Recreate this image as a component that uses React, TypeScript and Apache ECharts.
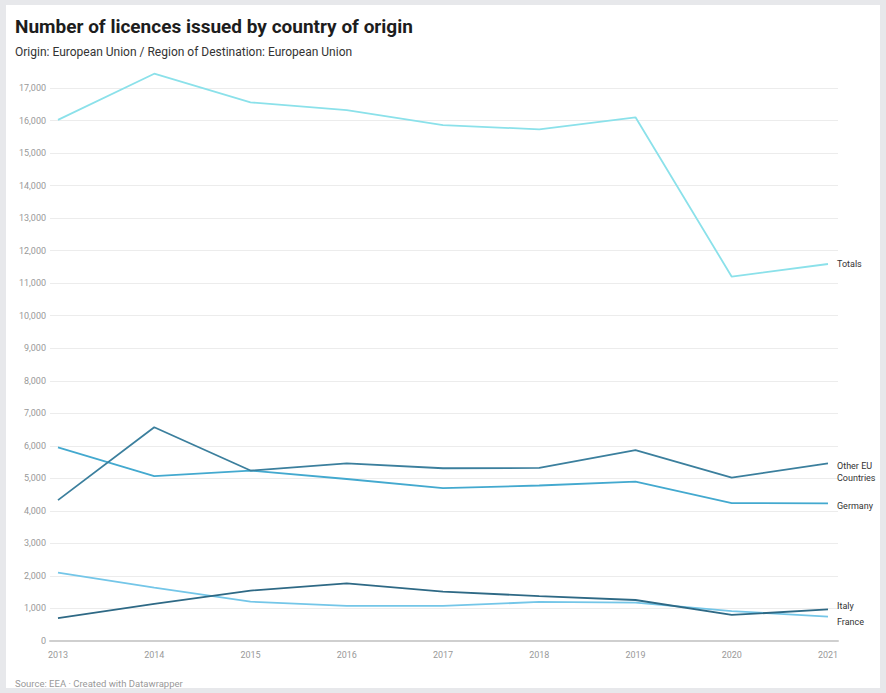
import React, { useEffect, useRef } from "react";
import * as echarts from "echarts";

const years = [2013, 2014, 2015, 2016, 2017, 2018, 2019, 2020, 2021];
const yTicks = [0, 1000, 2000, 3000, 4000, 5000, 6000, 7000, 8000, 9000, 10000, 11000, 12000, 13000, 14000, 15000, 16000, 17000];

const totals = [16020, 17440, 16560, 16320, 15860, 15730, 16100, 11200, 11590];
const otherEU = [4330, 6570, 5240, 5460, 5310, 5320, 5870, 5020, 5460];
const germany = [5950, 5070, 5240, 4980, 4700, 4780, 4900, 4240, 4230];
const italy = [700, 1140, 1550, 1770, 1520, 1380, 1260, 800, 970];
const france = [2100, 1640, 1210, 1080, 1080, 1200, 1180, 920, 750];

const seriesNames = ["Totals", "Other EU\nCountries", "Germany", "Italy", "France"];
const seriesValues = [totals, otherEU, germany, italy, france];
const seriesColors = ["#8be1ea", "#3b7f9d", "#43a9cf", "#2e6985", "#74c6e8"];
const labelOffsets: [number, number][] = [[0, 0], [0, 9], [0, 3], [0, -3], [0, 5]];

const FONT = "Roboto, 'Noto Sans', sans-serif";

export default function App() {
  const ref = useRef<HTMLDivElement>(null);

  useEffect(() => {
    if (!ref.current) return;
    const chart = echarts.init(ref.current, undefined, { renderer: "svg" });

    const series = seriesNames.map((name, i) => ({
      name,
      type: "line",
      data: years.map((y, j) => [y, seriesValues[i][j]]),
      symbol: "none",
      clip: false,
      lineStyle: { color: seriesColors[i], width: 1.8 },
      itemStyle: { color: seriesColors[i] },
      endLabel: {
        show: true,
        formatter: name,
        color: "#333",
        fontFamily: FONT,
        fontSize: 9,
        lineHeight: 12,
        distance: 9,
        offset: labelOffsets[i],
      },
      z: 5 - i,
    }));

    chart.setOption({
      animation: false,
      backgroundColor: "transparent",
      textStyle: { fontFamily: FONT },
      title: [
        {
          text: "Number of licences issued by country of origin",
          left: 10,
          top: 12,
          textStyle: { fontFamily: FONT, fontSize: 19, fontWeight: 700, color: "#1d1d1d" },
        },
        {
          text: "Origin: European Union / Region of Destination: European Union",
          left: 10,
          top: 41,
          textStyle: { fontFamily: FONT, fontSize: 12, fontWeight: 400, color: "#333" },
        },
        {
          text: "Source: EEA · Created with Datawrapper",
          left: 10,
          top: 673,
          textStyle: { fontFamily: FONT, fontSize: 9.5, fontWeight: 400, color: "#999" },
        },
      ],
      grid: { left: 50, right: 48, top: 88, bottom: 52, containLabel: false },
      xAxis: {
        type: "value",
        min: 2012.917,
        max: 2021.104,
        axisLine: { show: true, lineStyle: { color: "#cfcfcf", width: 2 } },
        axisTick: { show: false },
        splitLine: { show: false },
        axisLabel: {
          customValues: years,
          formatter: (v: number) => String(v),
          color: "#999",
          fontSize: 9,
          margin: 9,
          fontFamily: FONT,
        },
      },
      yAxis: {
        type: "value",
        min: yTicks[0],
        max: yTicks[yTicks.length - 1],
        interval: 1000,
        axisLine: { show: false },
        axisTick: { show: false },
        splitLine: { show: true, lineStyle: { color: "#ececec", width: 1 } },
        axisLabel: {
          formatter: (v: number) => v.toLocaleString("en-US"),
          color: "#999",
          fontSize: 9,
          margin: 4,
          fontFamily: FONT,
        },
      },
      series,
    });

    return () => chart.dispose();
  }, []);

  return (
    <div
      style={{
        position: "fixed",
        left: 0,
        top: 0,
        width: 886,
        height: 693,
        background: "#e7e8eb",
        overflow: "hidden",
      }}
    >
      <div
        style={{
          position: "absolute",
          left: 6,
          top: 5,
          width: 874,
          height: 683,
          background: "#ffffff",
        }}
      />
      <div ref={ref} style={{ position: "absolute", left: 0, top: 0, width: 886, height: 693 }} />
    </div>
  );
}
